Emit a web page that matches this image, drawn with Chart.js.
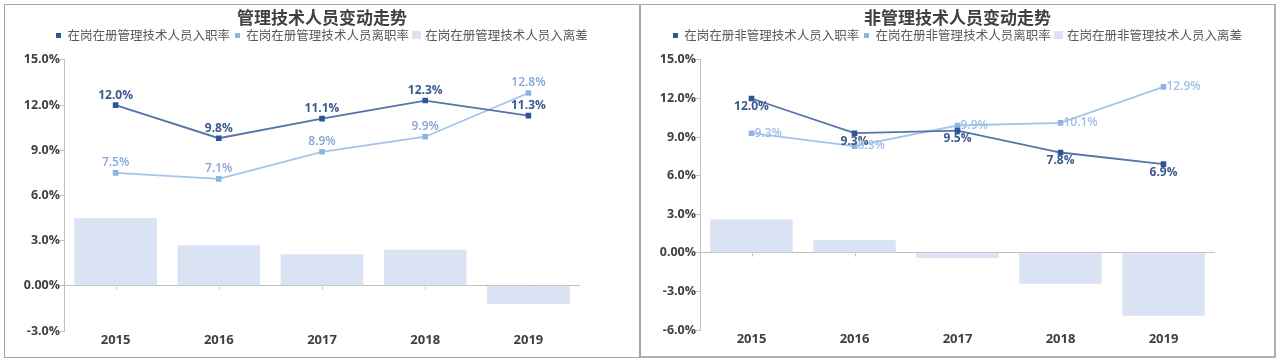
<!DOCTYPE html>
<html><head><meta charset="utf-8">
<script src="https://cdn.jsdelivr.net/npm/chart.js@4.4.0/dist/chart.umd.min.js"></script>
<style>
html,body{margin:0;padding:0;background:#fff;width:1280px;height:361px;overflow:hidden}
.panel{position:absolute;top:4px;height:354px;box-sizing:border-box;border:1px solid #a6a6a6;background:#fff}
#p1{left:4px;width:636px}
#p2{left:640px;width:636px;border-right:2px solid #b0b0b0;border-bottom:2px solid #b0b0b0}
.panel canvas{position:absolute;left:0;top:0}
</style></head><body>
<div class="panel" id="p1"><canvas id="c1" width="634" height="352"></canvas></div>
<div class="panel" id="p2"><canvas id="c2" width="633" height="351"></canvas></div>
<script>
const categories = ['2015', '2016', '2017', '2018', '2019'];
const mgmtHire  = [12.0, 9.8, 11.1, 12.3, 11.3];
const mgmtLeave = [7.5, 7.1, 8.9, 9.9, 12.8];
const mgmtDiff  = [4.5, 2.7, 2.1, 2.4, -1.2];
const nonHire   = [12.0, 9.3, 9.5, 7.8, 6.9];
const nonLeave  = [9.3, 8.3, 9.9, 10.1, 12.9];
const nonDiff   = [2.6, 1.0, -0.4, -2.4, -4.9];
const mgmtTicks = {min: -3, max: 15, step: 3};
const nonTicks  = {min: -6, max: 15, step: 3};

const TXT = '#404040';
const CJK = "'Noto Sans CJK SC', 'Noto Sans', sans-serif";
const NUM = "'Open Sans', 'Noto Sans CJK SC', sans-serif";

function swatch(w, h, color) {
  const c = document.createElement('canvas');
  c.width = w; c.height = h;
  const g = c.getContext('2d');
  g.fillStyle = color; g.fillRect(0, 0, w, h);
  return c;
}

const pointLabels = {
  id: 'pointLabels',
  afterDatasetsDraw(chart) {
    const ctx = chart.ctx;
    chart.data.datasets.forEach((ds, i) => {
      if (!ds.labelPos) return;
      const meta = chart.getDatasetMeta(i);
      if (meta.hidden) return;
      ctx.save();
      ctx.font = ds.labelFont;
      ctx.fillStyle = ds.labelColor;
      ctx.textBaseline = 'middle';
      meta.data.forEach((pt, j) => {
        const txt = ds.data[j].toFixed(1) + '%';
        let x = pt.x, y = pt.y;
        if (ds.labelPos === 'top') { ctx.textAlign = 'center'; y -= 10; }
        else if (ds.labelPos === 'bottom') { ctx.textAlign = 'center'; y += 8; }
        else { ctx.textAlign = 'left'; x += 3; }
        ctx.fillText(txt, x, y);
      });
      ctx.restore();
    });
  }
};

const zeroTicks = {
  id: 'zeroTicks',
  beforeDatasetsDraw(chart) {
    const ctx = chart.ctx, xs = chart.scales.x, ys = chart.scales.y;
    const y0 = Math.round(ys.getPixelForValue(0)) + 0.5;
    ctx.save();
    ctx.strokeStyle = '#bfbfbf';
    ctx.lineWidth = 1;
    categories.forEach((c, i) => {
      const px = Math.round(xs.getPixelForValue(i)) + 0.5;
      ctx.beginPath(); ctx.moveTo(px, y0); ctx.lineTo(px, y0 + 3); ctx.stroke();
    });
    ctx.restore();
  }
};

const legendGap = {
  id: 'legendGap',
  beforeInit(chart) {
    const lg = chart.legend;
    if (!lg) return;
    const fit = lg.fit;
    lg.fit = function () { fit.call(this); this.height += 8.5; };
  }
};

function makeChart(id, title, names, hire, leave, diff, tk, hirePos, leavePos, leaveLabelColor) {
  return new Chart(document.getElementById(id), {
    data: {
      labels: categories,
      datasets: [
        {
          type: 'line', label: names[0], data: hire, order: 1,
          borderColor: '#5574a8', borderWidth: 1.8,
          pointStyle: 'rect', pointRadius: 2.7, pointBackgroundColor: '#2f5597', pointBorderColor: '#2f5597',
          backgroundColor: '#2f5597', legendMark: swatch(5, 5, '#2f5597'),
          labelPos: hirePos, labelColor: '#3b5a8c', labelFont: "bold 12px " + NUM
        },
        {
          type: 'line', label: names[1], data: leave, order: 2,
          borderColor: '#a4c4ea', borderWidth: 1.8,
          pointStyle: 'rect', pointRadius: 2.7, pointBackgroundColor: '#8fb4e3', pointBorderColor: '#8fb4e3',
          backgroundColor: '#8fb4e3', legendMark: swatch(5, 5, '#8fb4e3'),
          labelPos: leavePos, labelColor: leaveLabelColor, labelFont: "600 12px " + NUM
        },
        {
          type: 'bar', label: names[2], data: diff, order: 3,
          backgroundColor: '#dae3f3', borderWidth: 0, legendMark: swatch(9, 8, '#dae3f3'),
          barPercentage: 0.8, categoryPercentage: 1.0
        }
      ]
    },
    options: {
      responsive: false,
      animation: false,
      devicePixelRatio: 1,
      layout: { padding: 0 },
      plugins: {
        title: {
          display: true, text: title, color: TXT,
          font: { family: CJK, size: 17, weight: 'bold', lineHeight: 0.4 },
          padding: { top: 9.1, bottom: 3 }
        },
        legend: {
          display: true, position: 'top',
          labels: {
            color: '#595959', font: { family: CJK, size: 12.5 },
            usePointStyle: true, boxWidth: 5, boxHeight: 5, padding: 5,
            generateLabels(chart) {
              return chart.data.datasets.map((ds, i) => ({
                text: ds.label, fillStyle: ds.backgroundColor,
                strokeStyle: 'transparent', lineWidth: 0, pointStyle: ds.legendMark, datasetIndex: i, hidden: false,
                fontColor: '#595959'
              }));
            }
          }
        },
        tooltip: { enabled: false }
      },
      scales: {
        x: {
          type: 'category',
          grid: { display: false, drawTicks: false },
          border: { display: false },
          ticks: { color: TXT, font: { family: NUM, size: 13, weight: 'bold' }, padding: 1 },
          afterFit(s) { s.height = 26; }
        },
        y: {
          position: 'left',
          min: tk.min, max: tk.max,
          ticks: {
            stepSize: tk.step, color: TXT, padding: 0,
            font: { family: NUM, size: 12.5, weight: 'bold' },
            callback: v => (v === 0 ? '0.00%' : v.toFixed(1) + '%')
          },
          grid: {
            color: c => (c.tick && c.tick.value === 0 ? '#bfbfbf' : 'rgba(0,0,0,0)'),
            tickColor: '#bfbfbf', tickLength: 4, lineWidth: 1
          },
          border: { display: true, color: '#bfbfbf' },
          afterFit(s) { s.width = 59; }
        },
        yRight: {
          position: 'right', type: 'linear', min: tk.min, max: tk.max,
          ticks: { display: false },
          grid: { display: false, drawTicks: false },
          border: { display: false },
          afterFit(s) { s.width = 59; }
        }
      }
    },
    plugins: [legendGap, zeroTicks, pointLabels]
  });
}

makeChart('c1', '管理技术人员变动走势',
  ['在岗在册管理技术人员入职率', '在岗在册管理技术人员离职率', '在岗在册管理技术人员入离差'],
  mgmtHire, mgmtLeave, mgmtDiff, mgmtTicks, 'top', 'top', '#86a5d6');
makeChart('c2', '非管理技术人员变动走势',
  ['在岗在册非管理技术人员入职率', '在岗在册非管理技术人员离职率', '在岗在册非管理技术人员入离差'],
  nonHire, nonLeave, nonDiff, nonTicks, 'bottom', 'right', '#9dbfe8');
</script>
</body></html>
